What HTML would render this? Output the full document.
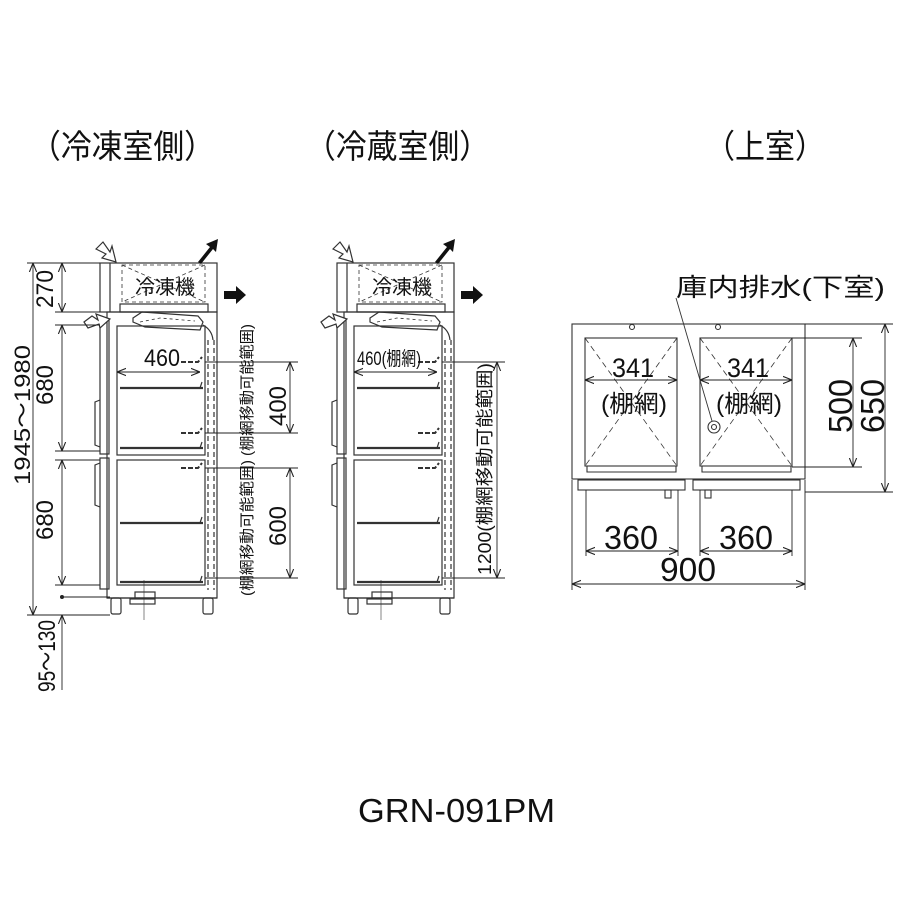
<!DOCTYPE html>
<html><head><meta charset="utf-8"><style>
html,body{margin:0;padding:0;background:#fff}
svg{display:block}
text{font-family:"Liberation Sans","Noto Sans CJK JP",sans-serif;fill:#111}
</style></head><body>
<svg width="900" height="900" viewBox="0 0 900 900" xmlns="http://www.w3.org/2000/svg">
<defs>
<marker id="a" viewBox="0 0 10 10" refX="10" refY="5" markerWidth="9" markerHeight="9" orient="auto-start-reverse" markerUnits="userSpaceOnUse"><path d="M0,1 L10,5 L0,9" fill="none" stroke="#222" stroke-width="1.2"/></marker>
<g id="cab" fill="none" stroke="#333" stroke-width="1.2">
  <rect x="100" y="263" width="117" height="49"/>
  <line x1="110" y1="263" x2="110" y2="312"/>
  <rect x="122" y="265" width="83" height="37" stroke-dasharray="4,3" stroke-width="0.8"/>
  <line x1="122" y1="265" x2="205" y2="302" stroke-dasharray="4,3" stroke-width="0.8"/>
  <line x1="205" y1="265" x2="122" y2="302" stroke-dasharray="4,3" stroke-width="0.8"/>
  <rect x="120" y="304" width="88" height="8"/>
  <path d="M133,318 L142,312 L198,316 L203,322 L200,330 L145,327 L133,322 Z"/>
  <path d="M140,322 L160,318 L195,321" stroke-dasharray="3,3" stroke-width="0.8"/>
  <rect x="107" y="312" width="110" height="286"/>
  <rect x="117" y="326" width="88" height="129"/>
  <rect x="117" y="460" width="88" height="125"/>
  <rect x="100" y="320" width="9" height="134"/>
  <rect x="100" y="458" width="9" height="131"/>
  <path d="M100,400 L95,402 L95,445 L100,447"/>
  <path d="M100,463 L95,465 L95,505 L100,507"/>
  <line x1="208" y1="340" x2="208" y2="590" stroke-dasharray="5,3"/>
  <line x1="214" y1="340" x2="214" y2="590" stroke-dasharray="5,3"/>
  <path d="M203,325 Q212,330 213,340"/>
  <g stroke-width="2.2">
    <line x1="120" y1="388" x2="203" y2="388"/>
    <line x1="120" y1="448" x2="203" y2="448"/>
    <line x1="120" y1="523" x2="203" y2="523"/>
    <line x1="120" y1="582" x2="203" y2="582"/>
  </g>
  <path d="M200,388 L202,382 M200,448 L202,442 M200,523 L202,517 M200,582 L202,576"/>
  <path d="M181,362 L198,362 L202,357 M181,433 L198,433 L202,428 M181,468 L198,468 L202,463" stroke-width="2" stroke-dasharray="5,2"/>
  <line x1="107" y1="598" x2="217" y2="598"/>
  <rect x="111" y="598" width="10" height="16" rx="2"/>
  <rect x="203" y="598" width="10" height="16" rx="2"/>
  <rect x="135" y="592" width="20" height="6"/>
  <rect x="130" y="599" width="25" height="5"/>
  <line x1="144" y1="580" x2="144" y2="620" stroke-width="0.6"/>
  <path d="M96,249 L103,242 L110,252 L112,246 L116,262 L102,258 L106,254 Z" fill="#fff"/>
  <path d="M84,322 L92,316 L98,320 L96,314 L110,319 L100,328 L99,324 L88,328 Z" fill="#fff"/>
</g>
<g id="blk" fill="#111">
  <path d="M198,262 L210,247 L206,244 L218,239 L216,252 L213,249 L201,264 Z"/>
  <path d="M224,291 L236,291 L236,286 L246,295 L236,304 L236,299 L224,299 Z"/>
</g>
</defs>

<text x="30" y="158" font-size="33" textLength="185" lengthAdjust="spacingAndGlyphs">（冷凍室側）</text>
<text x="305" y="158" font-size="33" textLength="185" lengthAdjust="spacingAndGlyphs">（冷蔵室側）</text>
<text x="705" y="158" font-size="33" textLength="120" lengthAdjust="spacingAndGlyphs">（上室）</text>

<use href="#cab"/><use href="#blk"/>
<text x="135" y="294" font-size="20">冷凍機</text>
<g stroke="#222" stroke-width="0.9" fill="none">
  <line x1="27" y1="263" x2="100" y2="263"/>
  <line x1="55" y1="312" x2="100" y2="312"/>
  <line x1="55" y1="325" x2="100" y2="325"/>
  <line x1="55" y1="451" x2="100" y2="451"/>
  <line x1="55" y1="460" x2="100" y2="460"/>
  <line x1="55" y1="585" x2="100" y2="585"/>
  <line x1="60" y1="597" x2="110" y2="597"/>
  <line x1="27" y1="615" x2="110" y2="615"/>
  <line x1="33" y1="263" x2="33" y2="615" marker-start="url(#a)" marker-end="url(#a)"/>
  <line x1="62" y1="263" x2="62" y2="312" marker-start="url(#a)" marker-end="url(#a)"/>
  <line x1="62" y1="325" x2="62" y2="451" marker-start="url(#a)" marker-end="url(#a)"/>
  <line x1="62" y1="460" x2="62" y2="585" marker-start="url(#a)" marker-end="url(#a)"/>
  <line x1="62" y1="690" x2="62" y2="615" marker-end="url(#a)"/>
  <line x1="205" y1="362" x2="298" y2="362"/>
  <line x1="205" y1="433" x2="298" y2="433"/>
  <line x1="205" y1="468" x2="298" y2="468"/>
  <line x1="205" y1="578" x2="298" y2="578"/>
  <line x1="290" y1="362" x2="290" y2="433" marker-start="url(#a)" marker-end="url(#a)"/>
  <line x1="290" y1="468" x2="290" y2="578" marker-start="url(#a)" marker-end="url(#a)"/>
  <line x1="117" y1="372" x2="200" y2="372" marker-start="url(#a)" marker-end="url(#a)"/>
</g>
<circle cx="62" cy="597" r="2" fill="#222"/>
<text x="144" y="366" font-size="24" textLength="36" lengthAdjust="spacingAndGlyphs">460</text>
<g font-size="24">
<text transform="translate(30,485) rotate(-90)" font-size="22" textLength="140" lengthAdjust="spacingAndGlyphs">1945～1980</text>
<text transform="translate(53,308) rotate(-90)" textLength="38" lengthAdjust="spacingAndGlyphs">270</text>
<text transform="translate(53,405) rotate(-90)" textLength="40" lengthAdjust="spacingAndGlyphs">680</text>
<text transform="translate(53,540) rotate(-90)" textLength="40" lengthAdjust="spacingAndGlyphs">680</text>
<text transform="translate(55,692) rotate(-90)" textLength="72" lengthAdjust="spacingAndGlyphs">95～130</text>
<text transform="translate(286,426) rotate(-90)" textLength="40" lengthAdjust="spacingAndGlyphs">400</text>
<text transform="translate(286,546) rotate(-90)" textLength="40" lengthAdjust="spacingAndGlyphs">600</text>
</g>
<g font-size="15">
<text transform="translate(252,456) rotate(-90)" textLength="132" lengthAdjust="spacingAndGlyphs">(棚網移動可能範囲)</text>
<text transform="translate(252,596) rotate(-90)" textLength="136" lengthAdjust="spacingAndGlyphs">(棚網移動可能範囲)</text>
</g>

<g transform="translate(237,0)"><use href="#cab"/><use href="#blk"/>
<text x="135" y="294" font-size="20">冷凍機</text></g>
<g stroke="#222" stroke-width="0.9" fill="none">
  <line x1="442" y1="362" x2="505" y2="362"/>
  <line x1="442" y1="578" x2="505" y2="578"/>
  <line x1="497" y1="362" x2="497" y2="578" marker-start="url(#a)" marker-end="url(#a)"/>
  <line x1="354" y1="372" x2="437" y2="372" marker-start="url(#a)" marker-end="url(#a)"/>
</g>
<text x="357" y="365" font-size="19" textLength="64" lengthAdjust="spacingAndGlyphs">460(棚網)</text>
<text transform="translate(491,575) rotate(-90)" font-size="18" textLength="212" lengthAdjust="spacingAndGlyphs">1200(棚網移動可能範囲)</text>

<g stroke="#333" stroke-width="1.1" fill="none">
  <rect x="572" y="324" width="233" height="155"/>
  <rect x="585" y="338" width="92" height="128"/>
  <rect x="700" y="338" width="92" height="128"/>
  <g stroke-dasharray="6,4" stroke-width="0.8">
    <line x1="585" y1="338" x2="677" y2="466"/><line x1="677" y1="338" x2="585" y2="466"/>
    <line x1="700" y1="338" x2="792" y2="466"/><line x1="792" y1="338" x2="700" y2="466"/>
  </g>
  <circle cx="632" cy="327" r="2.5"/><circle cx="718" cy="327" r="2.5"/>
  <circle cx="714" cy="427" r="6"/><circle cx="714" cy="427" r="2.5"/>
  <path d="M587,466 L587,472 L676,472 L676,466"/>
  <path d="M702,466 L702,472 L791,472 L791,466"/>
  <rect x="578" y="480" width="107" height="10"/>
  <rect x="693" y="480" width="107" height="10"/>
  <rect x="665" y="490" width="6" height="8"/><rect x="705" y="490" width="6" height="8"/>
  <line x1="676" y1="298" x2="712" y2="421" stroke-width="0.9"/>
</g>
<g stroke="#222" stroke-width="0.9" fill="none">
  <line x1="585" y1="380" x2="677" y2="380" marker-start="url(#a)" marker-end="url(#a)"/>
  <line x1="700" y1="380" x2="792" y2="380" marker-start="url(#a)" marker-end="url(#a)"/>
  <line x1="792" y1="338" x2="862" y2="338"/>
  <line x1="792" y1="467" x2="862" y2="467"/>
  <line x1="805" y1="324" x2="893" y2="324"/>
  <line x1="805" y1="492" x2="893" y2="492"/>
  <line x1="853" y1="338" x2="853" y2="467" marker-start="url(#a)" marker-end="url(#a)"/>
  <line x1="885" y1="324" x2="885" y2="492" marker-start="url(#a)" marker-end="url(#a)"/>
  <line x1="572" y1="480" x2="572" y2="590"/>
  <line x1="805" y1="480" x2="805" y2="590"/>
  <line x1="586" y1="490" x2="586" y2="556"/>
  <line x1="678" y1="490" x2="678" y2="556"/>
  <line x1="700" y1="490" x2="700" y2="556"/>
  <line x1="792" y1="490" x2="792" y2="556"/>
  <line x1="586" y1="551" x2="678" y2="551" marker-start="url(#a)" marker-end="url(#a)"/>
  <line x1="700" y1="551" x2="792" y2="551" marker-start="url(#a)" marker-end="url(#a)"/>
  <line x1="572" y1="584" x2="805" y2="584" marker-start="url(#a)" marker-end="url(#a)"/>
</g>
<text x="676" y="296" font-size="25" textLength="209" lengthAdjust="spacingAndGlyphs">庫内排水(下室)</text>
<g font-size="27">
<text x="612" y="377" textLength="42" lengthAdjust="spacingAndGlyphs">341</text><text x="727" y="377" textLength="42" lengthAdjust="spacingAndGlyphs">341</text>
</g>
<g font-size="24">
<text x="601" y="412" textLength="66" lengthAdjust="spacingAndGlyphs">(棚網)</text><text x="716" y="412" textLength="66" lengthAdjust="spacingAndGlyphs">(棚網)</text>
</g>
<g font-size="33">
<text x="604" y="549" textLength="54" lengthAdjust="spacingAndGlyphs">360</text><text x="719" y="549" textLength="54" lengthAdjust="spacingAndGlyphs">360</text>
<text x="660" y="581" textLength="56" lengthAdjust="spacingAndGlyphs">900</text>
<text transform="translate(852,433) rotate(-90)" textLength="54" lengthAdjust="spacingAndGlyphs">500</text>
<text transform="translate(884,433) rotate(-90)" textLength="54" lengthAdjust="spacingAndGlyphs">650</text>
</g>

<text x="358" y="822" font-size="33" textLength="197" lengthAdjust="spacingAndGlyphs">GRN-091PM</text>
</svg>
</body></html>
